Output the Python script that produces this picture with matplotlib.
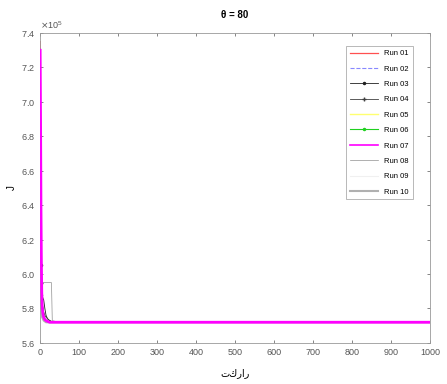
import matplotlib
matplotlib.use("Agg")
import matplotlib.pyplot as plt

# ========= Data =========
iters = [1, 2, 3, 4, 5, 6, 8, 10, 13, 16, 20, 25, 30, 32, 40, 60, 100, 1000]

run01 = [735000, 660000, 620000, 600000, 590000, 583000, 578000, 575000, 573000, 572500, 572000, 572000, 572000, 572000, 572000, 572000, 572000, 572000]
run02 = [700000, 650000, 610000, 595000, 585000, 580000, 576000, 574000, 573000, 572500, 572000, 572000, 572000, 572000, 572000, 572000, 572000, 572000]
run03 = [690000, 630000, 605000, 595000, 590000, 588000, 586000, 585000, 580000, 576000, 574000, 573000, 572500, 572000, 572000, 572000, 572000, 572000]
run04 = [670000, 610000, 595000, 588000, 585000, 583000, 580000, 578000, 576000, 575000, 574000, 573000, 572500, 572000, 572000, 572000, 572000, 572000]
run05 = [710000, 640000, 600000, 588000, 582000, 578000, 575000, 574000, 573000, 572500, 572000, 572000, 572000, 572000, 572000, 572000, 572000, 572000]
run06 = [650000, 600000, 588000, 584000, 583000, 582000, 580000, 576000, 574000, 573000, 572500, 572000, 572000, 572000, 572000, 572000, 572000, 572000]
run07 = [730000, 690000, 640000, 610000, 590000, 582000, 577000, 575000, 573500, 573000, 572500, 572000, 572000, 572000, 572000, 572000, 572000, 572000]
run08 = [620000, 597000, 595000, 595000, 595000, 595000, 595000, 595000, 595000, 595000, 595000, 595000, 595000, 573000, 572500, 572000, 572000, 572000]
run09 = [640000, 600000, 590000, 585000, 582000, 580000, 577000, 575000, 573500, 573000, 572500, 572000, 572000, 572000, 572000, 572000, 572000, 572000]
run10 = [630000, 600000, 585000, 580000, 577000, 575000, 574000, 573000, 572500, 572000, 572000, 572000, 572000, 572000, 572000, 572000, 572000, 572000]

runs = [run01, run02, run03, run04, run05, run06, run07, run08, run09, run10]
labels = ["Run 01", "Run 02", "Run 03", "Run 04", "Run 05",
          "Run 06", "Run 07", "Run 08", "Run 09", "Run 10"]
yticks = [560000, 580000, 600000, 620000, 640000, 660000, 680000, 700000, 720000, 740000]
xticks = [0, 100, 200, 300, 400, 500, 600, 700, 800, 900, 1000]

# ========= Styles =========
styles = [
    dict(color="#ff5050", ls="-", lw=0.9),
    dict(color="#8888ff", ls="--", lw=0.8),
    dict(color="#202020", ls="-", lw=0.6, marker=".", ms=3, markevery=[2]),
    dict(color="#404040", ls="-", lw=0.6, marker="+", ms=3, markevery=[2]),
    dict(color="#ffff70", ls="-", lw=1.0),
    dict(color="#20d020", ls="-", lw=0.8, marker=".", ms=3, markevery=[2]),
    dict(color="#ff00ff", ls="-", lw=2.0, zorder=5),
    dict(color="#909090", ls="-", lw=0.5),
    dict(color="#f0f0f0", ls="-", lw=0.8),
    dict(color="#b0b0b0", ls="-", lw=1.5),
]

plt.rcParams["font.family"] = ["Liberation Sans", "DejaVu Sans"]

fig = plt.figure(figsize=(4.47, 3.84), dpi=100)
ax = fig.add_axes([0.089, 0.107, 0.873, 0.807])

for vals, lab, st in zip(runs, labels, styles):
    ax.plot(iters, vals, label=lab, **st)

ax.set_xlim(0, 1000)
ax.set_ylim(560000, 740000)
ax.set_xticks(xticks)
ax.set_yticks(yticks)
ax.ticklabel_format(axis="y", style="sci", scilimits=(5, 5), useMathText=True)
ax.yaxis.get_offset_text().set_fontsize(6.5)
ax.yaxis.get_offset_text().set_color("#555555")

ax.tick_params(labelsize=6.5, colors="#555555", direction="in", length=2,
               top=True, right=True, width=0.5)
for sp in ax.spines.values():
    sp.set_color("#999999")
    sp.set_linewidth(0.6)

ax.set_title("θ = 80", fontsize=7, fontweight="bold", pad=11)
ax.set_xlabel("تكرار", fontsize=7, family=["DejaVu Sans"], labelpad=8)
ax.set_ylabel("J", fontsize=7, labelpad=3)

leg = ax.legend(loc="upper right", fontsize=5.5, handlelength=3.7,
                frameon=True, fancybox=False, borderpad=0.5,
                labelspacing=1.05, bbox_to_anchor=(0.965, 0.97))
leg.get_frame().set_edgecolor("#999999")
leg.get_frame().set_linewidth(0.6)
leg.legend_handles[6].set_linewidth(1.2)

fig.savefig("out.png", dpi=100)
